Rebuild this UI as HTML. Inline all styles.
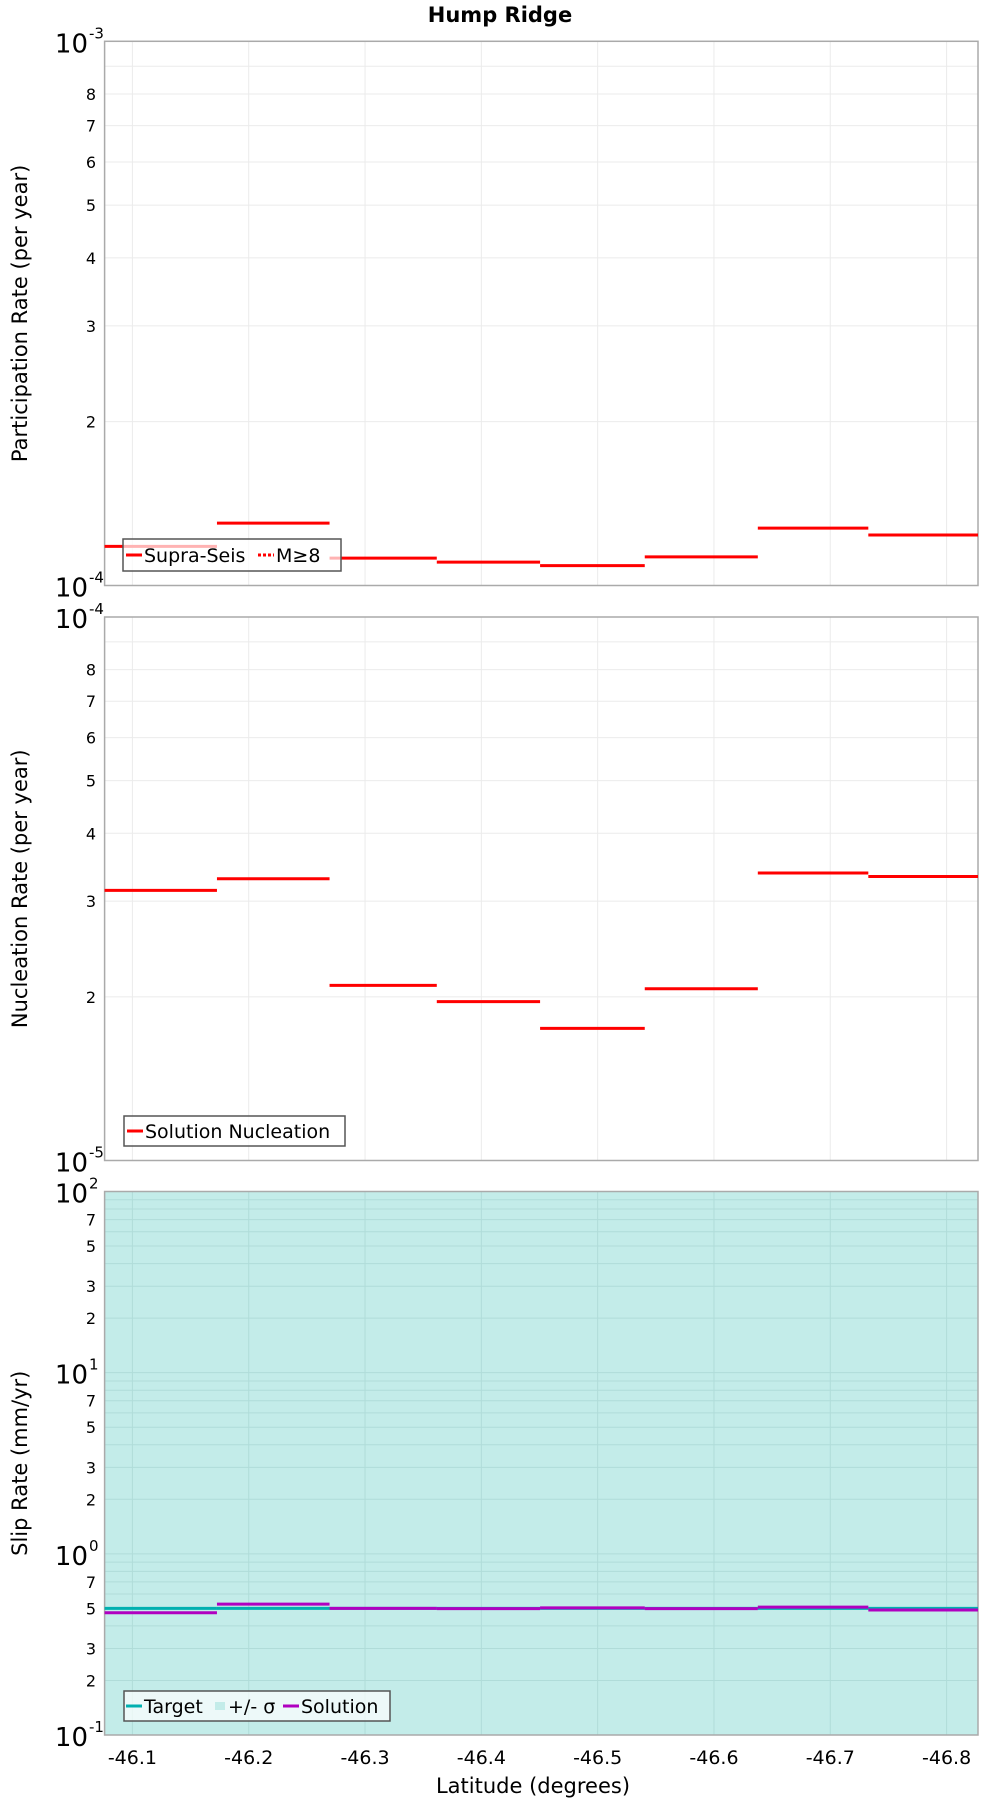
<!DOCTYPE html>
<html><head><meta charset="utf-8"><style>
body{margin:0;background:#fff}
svg{display:block;font-family:"DejaVu Sans","Liberation Sans",sans-serif}
</style></head><body>
<svg id="chart" width="1000" height="1800" viewBox="0 0 1000 1800" xmlns="http://www.w3.org/2000/svg">
<text x="500" y="22" text-anchor="middle" font-size="21" font-weight="bold">Hump Ridge</text>
</svg>
<script>
const binEdges = [-46.0761, -46.1727, -46.2695, -46.3617, -46.4505, -46.5405, -46.6377, -46.7327, -46.827];
const participation = [1.18e-4, 1.302e-4, 1.123e-4, 1.104e-4, 1.088e-4, 1.129e-4, 1.275e-4, 1.238e-4];
const nucleation = [3.14e-5, 3.30e-5, 2.10e-5, 1.96e-5, 1.75e-5, 2.07e-5, 3.38e-5, 3.33e-5];
const slipTarget = [0.5, 0.5, 0.5, 0.5, 0.5, 0.5, 0.5, 0.5];
const slipSolution = [0.473, 0.528, 0.5, 0.498, 0.503, 0.498, 0.508, 0.49];
const xTicks = [-46.1, -46.2, -46.3, -46.4, -46.5, -46.6, -46.7, -46.8];

const NS = "http://www.w3.org/2000/svg";
const svg = document.getElementById('chart');
const L = 104.6, R = 978;
function xs(lat){ return L + (binEdges[0]-lat)/(binEdges[0]-binEdges[8])*(R-L); }
function mk(tag, attrs, parent){ const e=document.createElementNS(NS,tag); for(const k in attrs) e.setAttribute(k,attrs[k]); (parent||svg).appendChild(e); return e; }

function panel(top, bottom, minExp, maxExp, labeledMinors, name, title, bg){
  const g = mk('g',{});
  
  
  const ys = v => bottom - (Math.log10(v)-minExp)/(maxExp-minExp)*(bottom-top);
  if(bg) mk('rect',{x:L,y:top,width:R-L,height:bottom-top,fill:bg},g);
  for(let e=minExp;e<maxExp;e++){
    for(let m=2;m<=9;m++){
      const y = ys(m*Math.pow(10,e));
      mk('line',{x1:L,x2:R,y1:y,y2:y,stroke:bg?'#b0dcd9':'#ebebeb','stroke-width':1},g);
      if(labeledMinors.includes(m)){
        const t = mk('text',{x:96,y:y+6,'text-anchor':'end','font-size':16},g);
        t.textContent = m;
        
        
      }
    }
  }
  for(let e=minExp;e<=maxExp;e++){
    const y = ys(Math.pow(10,e));
    mk('line',{x1:L,x2:R,y1:y,y2:y,stroke:bg?'#b0dcd9':'#ebebeb','stroke-width':1},g);
    const t = mk('text',{x:88,y:y+11,'text-anchor':'end','font-size':26},g);
    t.textContent = '10';
    
    
    const s = mk('text',{x:89,y:y-3,'font-size':15},g);
    s.textContent = String(e);
    
    
  }
  xTicks.forEach(v=>{ const x=xs(v); mk('line',{x1:x,x2:x,y1:top,y2:bottom,stroke:bg?'#b0dcd9':'#ebebeb','stroke-width':1},g); });
  mk('rect',{x:L,y:top,width:R-L,height:bottom-top,fill:'none',stroke:'#aaaaaa','stroke-width':1.5},g);
  const at = mk('text',{transform:`translate(27,${(top+bottom)/2}) rotate(-90)`,'text-anchor':'middle','font-size':21},g);
  at.textContent = title;
  
  
  return {g, ys};
}
function steps(p, vals, color, w, name){
  vals.forEach((v,i)=>{
    const y = p.ys(v);
    const l = mk('line',{x1:xs(binEdges[i]),x2:xs(binEdges[i+1]),y1:y,y2:y,stroke:color,'stroke-width':w},p.g);
    
    
  });
}
function legend(x,y,w,h,items,name){
  const g = mk('g',{});
  
  
  mk('rect',{x:x,y:y,width:w,height:h,fill:'rgba(255,255,255,0.7)',stroke:'#555','stroke-width':1.5},g);
  items.forEach(it=>{
    if(it.box) mk('rect',{x:it.x,y:y+h/2-4,width:10,height:8,fill:it.color},g);
    else mk('line',{x1:it.x,x2:it.x+16,y1:y+h/2,y2:y+h/2,stroke:it.color,'stroke-width':3,'stroke-dasharray':it.dash||'none'},g);
    const t = mk('text',{x:it.x+(it.box?13:18),y:y+h/2+7,'font-size':19},g);
    t.textContent = it.label;
    
    
  });
}

const p1 = panel(41.3, 585.5, -4, -3, [2,3,4,5,6,7,8], 'participation-panel', 'Participation Rate (per year)');
steps(p1, participation, '#ff0000', 3, 'participation-step');
legend(123,539,218,32,[{x:126,color:'#ff0000',label:'Supra-Seis'},{x:258,color:'#ff0000',dash:'3,2',label:'M≥8'}],'participation-legend');

const p2 = panel(617, 1160.5, -5, -4, [2,3,4,5,6,7,8], 'nucleation-panel', 'Nucleation Rate (per year)');
steps(p2, nucleation, '#ff0000', 3, 'nucleation-step');
legend(124,1116,221,30,[{x:127,color:'#ff0000',label:'Solution Nucleation'}],'nucleation-legend');

const p3 = panel(1191.5, 1735, -1, 2, [2,3,5,7], 'slip-rate-panel', 'Slip Rate (mm/yr)', '#c3ece9');
steps(p3, slipTarget, '#00b0b0', 3, 'target-step');
steps(p3, slipSolution, '#b000c0', 3, 'solution-step');
legend(124,1691,266,30,[{x:126,color:'#00b0b0',label:'Target'},{x:215,color:'#c3ece9',box:true,label:'+/- σ'},{x:283,color:'#b000c0',label:'Solution'}],'slip-legend');

xTicks.forEach(v=>{
  const t = mk('text',{x:xs(v),y:1764,'text-anchor':'middle','font-size':19});
  t.textContent = v.toFixed(1);
  
  
});
const xt = mk('text',{x:533,y:1793,'text-anchor':'middle','font-size':21});
xt.textContent = 'Latitude (degrees)';


</script>
</body></html>
